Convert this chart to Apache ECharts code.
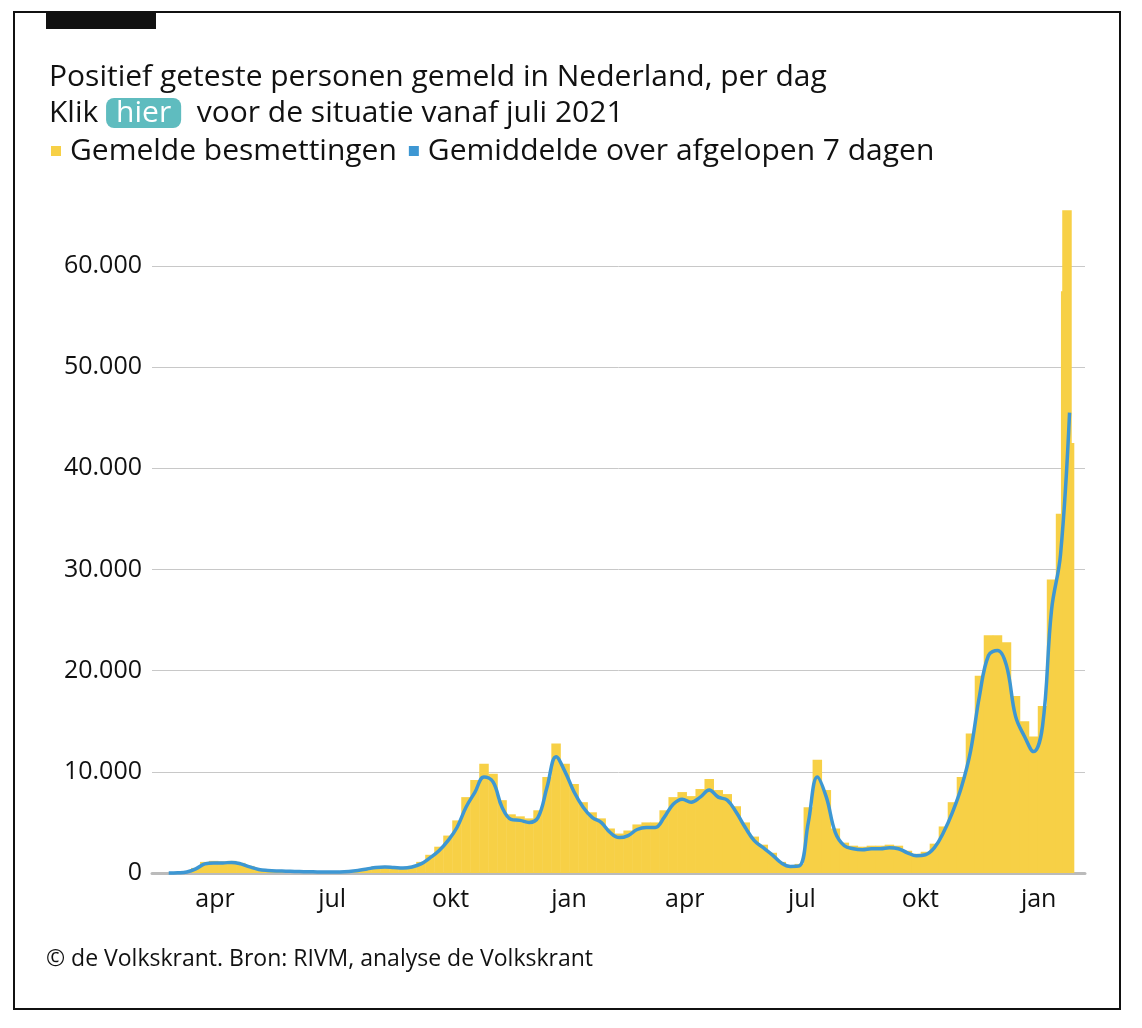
<!DOCTYPE html>
<html><head><meta charset="utf-8">
<script src="https://cdn.jsdelivr.net/npm/echarts@6/dist/echarts.min.js"></script>
<style>html,body{margin:0;background:#fff}#c{width:1142px;height:1028px}</style>
</head><body><div id="c"></div>
<script>
// weekly series starting 2020-02-24
const weekStart = '2020-02-24';
const avgValues = [0,20,100,400,900,1000,1000,1050,900,600,350,250,200,180,150,130,120,100,90,100,150,250,400,550,600,550,500,600,900,1500,2200,3200,4500,6500,8000,9500,9000,6500,5300,5200,5000,5500,8500,11500,10000,
8000,6500,5500,5000,4000,3500,3700,4300,4500,4500,5500,6800,7300,7000,7500,8200,7500,7200,6000,4500,3200,2500,1800,1000,650,700,5000,9500,7500,4000,2700,2400,2300,2400,2400,2500,2400,2000,1700,1800,2500,4000,6000,8500,12000,17500,21500,22000,20500,15500,13500,12000,14500,26000,31500,45500];
const dailyValues = [0,30,150,500,1100,1200,1150,1200,1000,700,400,300,250,200,170,150,130,110,100,120,180,300,450,650,700,600,550,700,1100,1800,2600,3700,5200,7500,9200,10800,9800,7200,5800,5600,5400,6200,9500,12800,10800,
8800,7000,6000,5400,4400,3900,4200,4800,5000,5000,6200,7500,8000,7600,8300,9300,8200,7800,6600,5000,3600,2800,2000,1100,750,900,6500,11200,8200,4400,3000,2700,2600,2700,2700,2800,2700,2200,1900,2100,2900,4600,7000,9500,13800,19500,23500,23500,22800,17500,15000,13500,16500,29000,35500,42500];
const lastDates = ['2022-01-22','2022-01-23'];
const lastValues = [57500,65500];
const tickDates = ['2020-04-01','2020-07-01','2020-10-01','2021-01-01','2021-04-01','2021-07-01','2021-10-01','2022-01-01'];
const tickLabels = ['apr','jul','okt','jan','apr','jul','okt','jan'];
const yTicks = [0,10000,20000,30000,40000,50000,60000];

const DAY = 86400000;
const t0 = Date.parse('2020-02-12');
const dnum = s => (Date.parse(s) - t0) / DAY;
const w0 = dnum(weekStart);
const avgData = avgValues.map((v,i)=>[w0+7*i+1, v]);
const barData = dailyValues.map((v,i)=>[w0+7*i+1, v]).concat(lastDates.map((d,i)=>[dnum(d), lastValues[i]]));
const tickPos = tickDates.map(dnum);
const fmt = v => String(v).replace(/\B(?=(\d{3})+(?!\d))/g,'.');

const chart = echarts.init(document.getElementById('c'));
const F = '"Open Sans", sans-serif';
chart.setOption({
  animation:false,
  textStyle:{fontFamily:F},
  graphic:[
    {type:'rect',shape:{x:14,y:12,width:1106,height:997},style:{fill:'none',stroke:'#111',lineWidth:2}},
    {type:'rect',shape:{x:46,y:12,width:110,height:17},style:{fill:'#111'}},
    {type:'text',left:46,top:948,style:{text:'© de Volkskrant. Bron: RIVM, analyse de Volkskrant',font:'23px '+F,fill:'#111'}}
  ],
  title:{left:44,top:54,text:'{a|Positief geteste personen gemeld in Nederland, per dag}\n{a|Klik }{h|hier}{a|  voor de situatie vanaf juli 2021}',
    textStyle:{rich:{a:{fontSize:30,fontWeight:'normal',color:'#111',fontFamily:F,lineHeight:36},
      h:{fontSize:30,fontWeight:'normal',color:'#fff',backgroundColor:'#5fbcbf',borderRadius:8,padding:[0,10,0,10],fontFamily:F,lineHeight:36}}}},
  legend:{left:46,top:131,icon:'rect',itemWidth:10,itemHeight:10,itemGap:12,
    textStyle:{fontSize:30,color:'#111',fontFamily:F,padding:[0,0,0,4]},
    data:[{name:'Gemelde besmettingen',itemStyle:{color:'#f7d046'}},{name:'Gemiddelde over afgelopen 7 dagen',itemStyle:{color:'#3d97d3'}}]},
  grid:{left:152,right:57,top:266,bottom:155},
  xAxis:{type:'value',min:0,max:dnum('2022-02-06'),
    axisLine:{show:true,lineStyle:{color:'#bbb',width:3}},axisTick:{show:false},splitLine:{show:false},
    axisLabel:{customValues:tickPos,fontSize:25,color:'#111',margin:14,formatter:v=>{const i=tickPos.findIndex(p=>Math.abs(p-v)<0.5);return i>=0?tickLabels[i]:'';}}},
  yAxis:{type:'value',min:0,max:60000,interval:10000,
    axisLine:{show:false},axisTick:{show:false},
    splitLine:{lineStyle:{color:'#c8c8c8'}},
    axisLabel:{fontSize:25,color:'#111',margin:10,formatter:v=>yTicks.includes(v)?fmt(v):''}},
  series:[
    {name:'Gemelde besmettingen',type:'bar',data:barData,barWidth:9.5,clip:false,itemStyle:{color:'#f7d046'}},
    {name:'Gemiddelde over afgelopen 7 dagen',type:'line',data:avgData,smooth:0.4,showSymbol:false,clip:false,lineStyle:{color:'#3d97d3',width:3.5},itemStyle:{color:'#3d97d3'}}
  ]
});
</script></body></html>
